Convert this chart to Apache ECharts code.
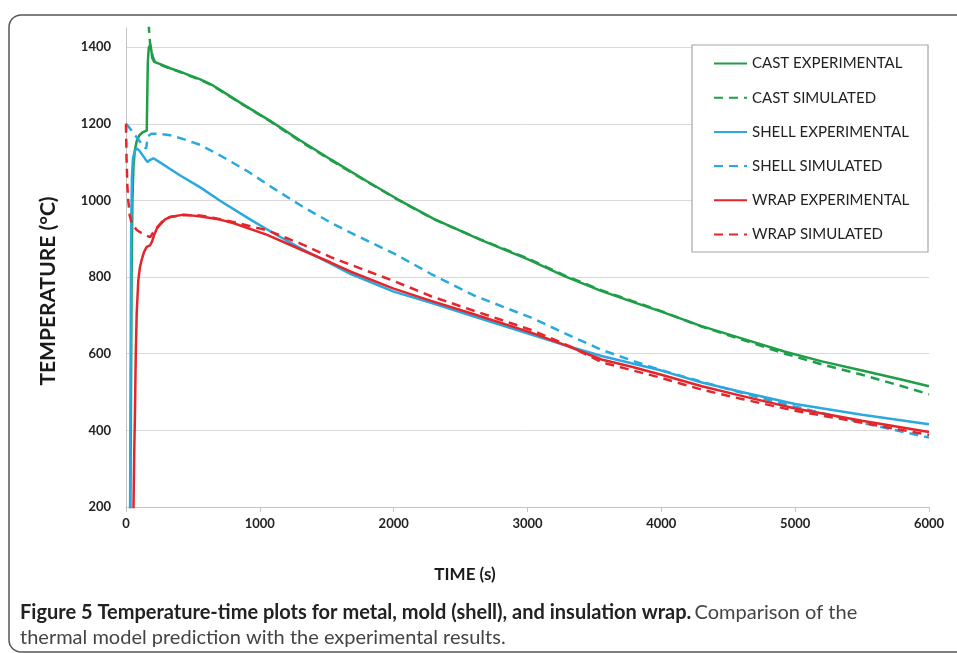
<!DOCTYPE html>
<html>
<head>
<meta charset="utf-8">
<script src="https://cdn.jsdelivr.net/npm/echarts@6/dist/echarts.min.js"></script>
<style>
  html, body { margin: 0; padding: 0; background: #fff; }
  #chart { width: 957px; height: 653px; }
</style>
</head>
<body>
<div id="chart"></div>
<script>
// Thermocouple readings and model predictions: [time (s), temperature (°C)]
const castExperimental = [
  [30,120],[36,400],[42,800],[48,1000],[56,1090],[66,1130],[80,1155],[100,1170],[125,1178],[155,1182],
  [158,1250],[163,1360],[170,1398],[180,1406],[188,1395],[196,1372],[210,1362],[260,1355],[330,1345],
  [405,1336],[470,1327],[555,1316],[650,1300],[750,1278],[850,1256],[1000,1224],[1080,1207],[1300,1157],
  [1530,1107],[1800,1050],[2030,1003],[2300,952],[2650,897],[3000,847],[3280,802],[3550,764],[3780,736],
  [4000,710],[4300,672],[4600,640],[4925,605],[5200,580],[5500,556],[5800,532],[6000,515]
];
const castSimulated = [
  [166,1500],[172,1445],[180,1410],[190,1393],[200,1375],[215,1362],[260,1354],[330,1344],
  [405,1335],[470,1326],[555,1315],[650,1299],[750,1277],[850,1255],[1000,1223],[1080,1206],[1300,1155],
  [1530,1105],[1800,1049],[2030,1002],[2300,951],[2650,898],[3000,849],[3280,804],[3550,766],[3780,738],
  [4000,711],[4300,671],[4600,637],[4925,600],[5200,572],[5500,545],[5800,515],[6000,494]
];
const shellExperimental = [
  [30,150],[34,500],[38,900],[44,1060],[52,1110],[65,1128],[80,1136],[100,1130],[130,1115],[160,1100],
  [180,1106],[205,1110],[260,1098],[330,1082],[405,1065],[555,1034],[700,1000],[930,950],[1100,915],
  [1305,875],[1500,840],[1680,808],[2000,762],[2280,733],[2600,697],[3028,650],[3300,620],[3553,594],
  [3778,575],[4000,556],[4303,525],[4600,500],[5000,469],[5500,441],[6000,416]
];
const shellSimulated = [
  [0,1200],[20,1192],[50,1178],[90,1160],[130,1142],[150,1135],[156,1150],[165,1168],[190,1174],
  [250,1174],[330,1170],[430,1160],[555,1145],[700,1118],[900,1078],[1100,1032],[1300,988],[1530,942],
  [1700,912],[2000,862],[2280,808],[2600,752],[3028,694],[3300,650],[3553,610],[3800,580],[4000,557],
  [4300,527],[4600,498],[5000,462],[5500,420],[6000,381]
];
const wrapExperimental = [
  [52,100],[56,200],[62,350],[67,445],[73,600],[80,706],[92,792],[104,825],[117,845],[135,866],[155,879],
  [180,883],[195,893],[210,910],[230,926],[255,937],[290,950],[330,957],[430,963],[560,958],[700,950],
  [800,941],[1055,910],[1305,872],[1530,838],[1680,814],[2000,770],[2280,738],[2600,703],[3028,655],
  [3300,620],[3553,585],[3778,566],[4000,545],[4303,515],[4600,490],[5000,457],[5500,425],[6000,396]
];
const wrapSimulated = [
  [0,1200],[4,1110],[10,1040],[17,1000],[28,960],[43,941],[80,923],[130,912],[180,904],[220,925],
  [270,945],[330,957],[430,962],[550,961],[650,955],[800,944],[1055,922],[1300,888],[1530,852],
  [1680,832],[2000,790],[2280,750],[2600,712],[3028,662],[3300,622],[3553,578],[3778,557],[4000,537],
  [4303,506],[4600,482],[5000,451],[5500,420],[6000,388]
];

const seriesNames = ['CAST EXPERIMENTAL', 'CAST SIMULATED', 'SHELL EXPERIMENTAL',
                     'SHELL SIMULATED', 'WRAP EXPERIMENTAL', 'WRAP SIMULATED'];
const seriesData = [castExperimental, castSimulated, shellExperimental,
                    shellSimulated, wrapExperimental, wrapSimulated];
const seriesColors = ['#1f9e48', '#1f9e48', '#2aa8e0', '#2aa8e0', '#e4262c', '#e4262c'];
const seriesDashed = [false, true, false, true, false, true];

const xTickStep = 1000, xMin = 0, xMax = 6000;
const yTickStep = 200, yMin = 200, yMax = 1450;

const xTitle = 'TIME (s)';
const yTitle = 'TEMPERATURE (°C)';
const captionBold = 'Figure 5 Temperature-time plots for metal, mold (shell), and insulation wrap.';
const captionRest = 'Comparison of the';
const captionLine2 = 'thermal model prediction with the experimental results.';

// Outline of the figure panel: open to the right, rounded on the left corners.
function framePoints(left, top, bottom, rightEnd, radius) {
  const pts = [[rightEnd, top]];
  for (let k = 0; k <= 8; k++) {
    const a = -Math.PI / 2 - (k / 8) * (Math.PI / 2);
    pts.push([left + radius + radius * Math.cos(a), top + radius + radius * Math.sin(a)]);
  }
  for (let k = 0; k <= 8; k++) {
    const a = Math.PI - (k / 8) * (Math.PI / 2);
    pts.push([left + radius + radius * Math.cos(a), bottom - radius + radius * Math.sin(a)]);
  }
  pts.push([rightEnd, bottom]);
  return pts;
}

const chart = echarts.init(document.getElementById('chart'), null, { renderer: 'canvas' });

const series = seriesNames.map((name, i) => ({
  name: name,
  type: 'line',
  data: seriesData[i],
  showSymbol: false,
  symbol: 'none',
  clip: true,
  z: 2,
  lineStyle: {
    color: seriesColors[i],
    width: 2.5,
    type: seriesDashed[i] ? [9, 6] : 'solid'
  },
  itemStyle: { color: seriesColors[i] }
}));

chart.setOption({
  animation: false,
  backgroundColor: '#ffffff',
  grid: { left: 126, right: 28, top: 28, bottom: 146, containLabel: false },
  xAxis: {
    type: 'value',
    min: xMin, max: xMax, interval: xTickStep,
    axisLine: { show: true, lineStyle: { color: '#c4c4c4', width: 1 } },
    axisTick: { show: true, length: 5, lineStyle: { color: '#c4c4c4' } },
    axisLabel: {
      fontFamily: 'Lato', fontWeight: 'bold', fontSize: 13, color: '#222', margin: 10,
      formatter: v => String(v)
    },
    splitLine: { show: false }
  },
  yAxis: {
    type: 'value',
    min: yMin, max: yMax, interval: yTickStep,
    axisLine: { show: true, lineStyle: { color: '#c4c4c4', width: 1 } },
    axisTick: { show: false },
    axisLabel: {
      fontFamily: 'Lato', fontWeight: 'bold', fontSize: 13, color: '#222', margin: 15,
      showMaxLabel: false,
      formatter: v => (v % yTickStep === 0 ? String(v) : '')
    },
    splitLine: {
      show: true, showMaxLine: false, showMinLine: false,
      lineStyle: { color: '#d9d9d9', width: 1 }
    }
  },
  legend: {
    data: seriesNames,
    orient: 'vertical',
    left: 713, top: 56,
    itemWidth: 33, itemHeight: 14, itemGap: 19.2,
    padding: 0,
    z: 5,
    itemStyle: { opacity: 0 },
    textStyle: { fontFamily: 'Lato', fontSize: 15, color: '#222' }
  },
  graphic: [
    {
      type: 'polyline', z: 1, silent: true,
      shape: { points: framePoints(9, 15, 652, 1000, 12) },
      style: { fill: 'none', stroke: '#555', lineWidth: 1.5 }
    },
    {
      type: 'rect', z: 3, silent: true,
      shape: { x: 692, y: 45, width: 236, height: 207 },
      style: { fill: '#ffffff', stroke: '#a6a6a6', lineWidth: 1.2 }
    },
    {
      type: 'text', z: 3, silent: true,
      x: 48, y: 291, rotation: Math.PI / 2,
      style: {
        text: yTitle,
        fontFamily: 'Lato', fontWeight: 'bold', fontSize: 21, fill: '#1a1a1a',
        align: 'center', verticalAlign: 'middle'
      }
    },
    {
      type: 'text', z: 3, silent: true,
      x: 465, y: 575,
      style: {
        text: xTitle,
        fontFamily: 'Lato', fontWeight: 'bold', fontSize: 17, fill: '#1a1a1a',
        align: 'center', verticalAlign: 'middle'
      }
    },
    {
      type: 'text', z: 3, silent: true,
      x: 20, y: 600,
      style: {
        text: '{b|' + captionBold + '} {n|' + captionRest + '}\n{n|' + captionLine2 + '}',
        rich: {
          b: { fontFamily: 'Lato', fontWeight: 'bold', fontSize: 20, fill: '#222', lineHeight: 25 },
          n: { fontFamily: 'Lato', fontSize: 20, fill: '#444', lineHeight: 25 }
        }
      }
    }
  ],
  series: series
});
</script>
</body>
</html>
